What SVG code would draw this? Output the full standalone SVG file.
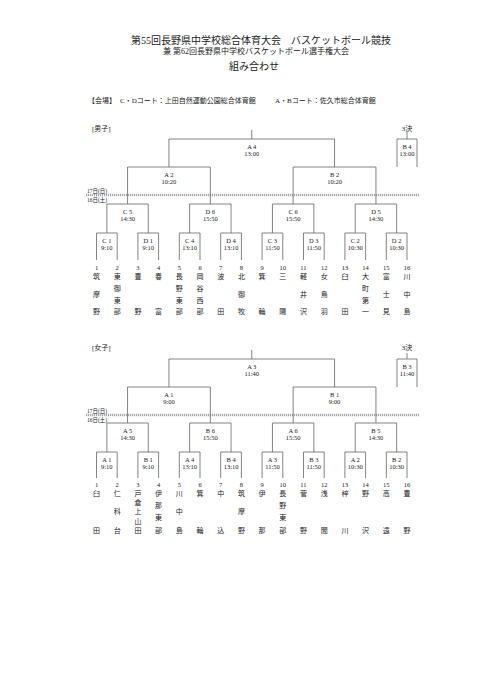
<svg xmlns="http://www.w3.org/2000/svg" width="481" height="680" viewBox="0 0 481 680">
<style>
text{font-family:"Liberation Serif","Noto Sans CJK JP",serif;fill:#222}
.t1{font-size:10px;text-anchor:middle}
.t2{font-size:8px;text-anchor:middle}
.vn{font-size:7px}
.sec{font-size:7px}
.day{font-size:5.5px}
.lb{font-size:6.5px;text-anchor:middle}
.num{font-size:6.5px;text-anchor:middle}
.nm{font-size:7px;text-anchor:middle}
.ln{fill:none;stroke:#666;stroke-width:0.8}
.dash{fill:none;stroke:#666;stroke-width:0.7;stroke-dasharray:1.2 0.8}
</style>
<rect width="481" height="680" fill="#fff"/>
<g id="title">
<text class="t1" x="261" y="43.8">第55回長野県中学校総合体育大会　バスケットボール競技</text>
<text class="t2" x="256" y="53.5">兼 第62回長野県中学校バスケットボール選手権大会</text>
<text class="t1" x="254" y="70.3">組み合わせ</text>
</g>
<g id="venue">
<text class="vn" x="88" y="102.7">【会場】</text>
<text class="vn" x="120" y="102.7">C・Dコート：上田自然運動公園総合体育館</text>
<text class="vn" x="275" y="102.7">A・Bコート：佐久市総合体育館</text>
</g>
<g id="connectors">
<!-- boys -->
<path class="ln" d="M251.75 130V139M168.95 167V139H334.55V167"/>
<path class="ln" d="M407 132V139M397 167V139H417V167"/>
<path class="ln" d="M127.55 204V167H210.35V204M293.15 204V167H375.95V204"/>
<path class="ln" d="M106.85 233V204H148.25V233M189.65 233V204H231.05V233M272.45 233V204H313.85V233M355.25 233V204H396.65V233"/>
<path class="ln" d="M96.5 260V233H117.2V260M137.9 260V233H158.6V260M179.3 260V233H200V260M220.7 260V233H241.4V260M262.1 260V233H282.8V260M303.5 260V233H324.2V260M344.9 260V233H365.6V260M386.3 260V233H407V260"/>
<path class="dash" d="M86 194.3H419M86 195.7H419"/>
<!-- girls -->
<path class="ln" d="M251.75 350V359M168.95 387V359H334.55V387"/>
<path class="ln" d="M407 353V359M397 387V359H417V387"/>
<path class="ln" d="M127.55 423V387H210.35V423M293.15 423V387H375.95V423"/>
<path class="ln" d="M106.85 452V423H148.25V452M189.65 452V423H231.05V452M272.45 452V423H313.85V452M355.25 452V423H396.65V452"/>
<path class="ln" d="M96.5 478V452H117.2V478M137.9 478V452H158.6V478M179.3 478V452H200V478M220.7 478V452H241.4V478M262.1 478V452H282.8V478M303.5 478V452H324.2V478M344.9 478V452H365.6V478M386.3 478V452H407V478"/>
<path class="dash" d="M86 414.3H419M86 415.7H419"/>
</g>
<g id="boys-labels">
<text class="sec" x="92" y="130.5">[男子]</text>
<text class="sec" x="407" y="130.5" text-anchor="middle">3決</text>
<text class="day" x="87" y="193">17日(日)</text>
<text class="day" x="87" y="201.5">16日(土)</text>
</g>
<g id="b-final"><text class="lb" x="251.75" y="148.5">A 4</text><text class="lb" x="251.75" y="155.5">13:00</text></g>
<g id="b-3rd"><text class="lb" x="407" y="148.5">B 4</text><text class="lb" x="407" y="155.5">13:00</text></g>
<g id="b-a2"><text class="lb" x="168.95" y="176.5">A 2</text><text class="lb" x="168.95" y="183.5">10:20</text></g>
<g id="b-b2"><text class="lb" x="334.55" y="176.5">B 2</text><text class="lb" x="334.55" y="183.5">10:20</text></g>
<g id="b-c5"><text class="lb" x="127.55" y="213.5">C 5</text><text class="lb" x="127.55" y="220.5">14:30</text></g>
<g id="b-d6"><text class="lb" x="210.35" y="213.5">D 6</text><text class="lb" x="210.35" y="220.5">15:50</text></g>
<g id="b-c6"><text class="lb" x="293.15" y="213.5">C 6</text><text class="lb" x="293.15" y="220.5">15:50</text></g>
<g id="b-d5"><text class="lb" x="375.95" y="213.5">D 5</text><text class="lb" x="375.95" y="220.5">14:30</text></g>
<g id="b-c1"><text class="lb" x="106.85" y="242.5">C 1</text><text class="lb" x="106.85" y="249.5">9:10</text></g>
<g id="b-d1"><text class="lb" x="148.25" y="242.5">D 1</text><text class="lb" x="148.25" y="249.5">9:10</text></g>
<g id="b-c4"><text class="lb" x="189.65" y="242.5">C 4</text><text class="lb" x="189.65" y="249.5">13:10</text></g>
<g id="b-d4"><text class="lb" x="231.05" y="242.5">D 4</text><text class="lb" x="231.05" y="249.5">13:10</text></g>
<g id="b-c3"><text class="lb" x="272.45" y="242.5">C 3</text><text class="lb" x="272.45" y="249.5">11:50</text></g>
<g id="b-d3"><text class="lb" x="313.85" y="242.5">D 3</text><text class="lb" x="313.85" y="249.5">11:50</text></g>
<g id="b-c2"><text class="lb" x="355.25" y="242.5">C 2</text><text class="lb" x="355.25" y="249.5">10:30</text></g>
<g id="b-d2"><text class="lb" x="396.65" y="242.5">D 2</text><text class="lb" x="396.65" y="249.5">10:30</text></g>
<g id="b-t1"><text class="num" x="96.5" y="269.5">1</text><text class="nm"><tspan x="96.5" y="278.7">筑</tspan><tspan x="96.5" y="296.55">摩</tspan><tspan x="96.5" y="314.4">野</tspan></text></g>
<g id="b-t2"><text class="num" x="117.2" y="269.5">2</text><text class="nm"><tspan x="117.2" y="278.7">東</tspan><tspan x="117.2" y="290.6">御</tspan><tspan x="117.2" y="302.5">東</tspan><tspan x="117.2" y="314.4">部</tspan></text></g>
<g id="b-t3"><text class="num" x="137.9" y="269.5">3</text><text class="nm"><tspan x="137.9" y="278.7">豊</tspan><tspan x="137.9" y="314.4">野</tspan></text></g>
<g id="b-t4"><text class="num" x="158.6" y="269.5">4</text><text class="nm"><tspan x="158.6" y="278.7">春</tspan><tspan x="158.6" y="314.4">富</tspan></text></g>
<g id="b-t5"><text class="num" x="179.3" y="269.5">5</text><text class="nm"><tspan x="179.3" y="278.7">長</tspan><tspan x="179.3" y="290.6">野</tspan><tspan x="179.3" y="302.5">東</tspan><tspan x="179.3" y="314.4">部</tspan></text></g>
<g id="b-t6"><text class="num" x="200" y="269.5">6</text><text class="nm"><tspan x="200" y="278.7">岡</tspan><tspan x="200" y="290.6">谷</tspan><tspan x="200" y="302.5">西</tspan><tspan x="200" y="314.4">部</tspan></text></g>
<g id="b-t7"><text class="num" x="220.7" y="269.5">7</text><text class="nm"><tspan x="220.7" y="278.7">波</tspan><tspan x="220.7" y="314.4">田</tspan></text></g>
<g id="b-t8"><text class="num" x="241.4" y="269.5">8</text><text class="nm"><tspan x="241.4" y="278.7">北</tspan><tspan x="241.4" y="296.55">御</tspan><tspan x="241.4" y="314.4">牧</tspan></text></g>
<g id="b-t9"><text class="num" x="262.1" y="269.5">9</text><text class="nm"><tspan x="262.1" y="278.7">箕</tspan><tspan x="262.1" y="314.4">輪</tspan></text></g>
<g id="b-t10"><text class="num" x="282.8" y="269.5">10</text><text class="nm"><tspan x="282.8" y="278.7">三</tspan><tspan x="282.8" y="314.4">陽</tspan></text></g>
<g id="b-t11"><text class="num" x="303.5" y="269.5">11</text><text class="nm"><tspan x="303.5" y="278.7">軽</tspan><tspan x="303.5" y="296.55">井</tspan><tspan x="303.5" y="314.4">沢</tspan></text></g>
<g id="b-t12"><text class="num" x="324.2" y="269.5">12</text><text class="nm"><tspan x="324.2" y="278.7">女</tspan><tspan x="324.2" y="296.55">鳥</tspan><tspan x="324.2" y="314.4">羽</tspan></text></g>
<g id="b-t13"><text class="num" x="344.9" y="269.5">13</text><text class="nm"><tspan x="344.9" y="278.7">臼</tspan><tspan x="344.9" y="314.4">田</tspan></text></g>
<g id="b-t14"><text class="num" x="365.6" y="269.5">14</text><text class="nm"><tspan x="365.6" y="278.7">大</tspan><tspan x="365.6" y="290.6">町</tspan><tspan x="365.6" y="302.5">第</tspan><tspan x="365.6" y="314.4">一</tspan></text></g>
<g id="b-t15"><text class="num" x="386.3" y="269.5">15</text><text class="nm"><tspan x="386.3" y="278.7">富</tspan><tspan x="386.3" y="296.55">士</tspan><tspan x="386.3" y="314.4">見</tspan></text></g>
<g id="b-t16"><text class="num" x="407" y="269.5">16</text><text class="nm"><tspan x="407" y="278.7">川</tspan><tspan x="407" y="296.55">中</tspan><tspan x="407" y="314.4">島</tspan></text></g>
<g id="girls-labels">
<text class="sec" x="92" y="349.5">[女子]</text>
<text class="sec" x="407" y="349.5" text-anchor="middle">3決</text>
<text class="day" x="87" y="412.8">17日(日)</text>
<text class="day" x="87" y="421.8">16日(土)</text>
</g>
<g id="g-final"><text class="lb" x="251.75" y="368.5">A 3</text><text class="lb" x="251.75" y="375.5">11:40</text></g>
<g id="g-3rd"><text class="lb" x="407" y="368.5">B 3</text><text class="lb" x="407" y="375.5">11:40</text></g>
<g id="g-a1"><text class="lb" x="168.95" y="396.5">A 1</text><text class="lb" x="168.95" y="403.5">9:00</text></g>
<g id="g-b1"><text class="lb" x="334.55" y="396.5">B 1</text><text class="lb" x="334.55" y="403.5">9:00</text></g>
<g id="g-a5"><text class="lb" x="127.55" y="432.5">A 5</text><text class="lb" x="127.55" y="439.5">14:30</text></g>
<g id="g-b6"><text class="lb" x="210.35" y="432.5">B 6</text><text class="lb" x="210.35" y="439.5">15:50</text></g>
<g id="g-a6"><text class="lb" x="293.15" y="432.5">A 6</text><text class="lb" x="293.15" y="439.5">15:50</text></g>
<g id="g-b5"><text class="lb" x="375.95" y="432.5">B 5</text><text class="lb" x="375.95" y="439.5">14:30</text></g>
<g id="g-r1a1"><text class="lb" x="106.85" y="461.5">A 1</text><text class="lb" x="106.85" y="468.5">9:10</text></g>
<g id="g-r1b1"><text class="lb" x="148.25" y="461.5">B 1</text><text class="lb" x="148.25" y="468.5">9:10</text></g>
<g id="g-r1a4"><text class="lb" x="189.65" y="461.5">A 4</text><text class="lb" x="189.65" y="468.5">13:10</text></g>
<g id="g-r1b4"><text class="lb" x="231.05" y="461.5">B 4</text><text class="lb" x="231.05" y="468.5">13:10</text></g>
<g id="g-r1a3"><text class="lb" x="272.45" y="461.5">A 3</text><text class="lb" x="272.45" y="468.5">11:50</text></g>
<g id="g-r1b3"><text class="lb" x="313.85" y="461.5">B 3</text><text class="lb" x="313.85" y="468.5">11:50</text></g>
<g id="g-r1a2"><text class="lb" x="355.25" y="461.5">A 2</text><text class="lb" x="355.25" y="468.5">10:30</text></g>
<g id="g-r1b2"><text class="lb" x="396.65" y="461.5">B 2</text><text class="lb" x="396.65" y="468.5">10:30</text></g>
<g id="g-t1"><text class="num" x="96.5" y="487.2">1</text><text class="nm"><tspan x="96.5" y="496">臼</tspan><tspan x="96.5" y="532.7">田</tspan></text></g>
<g id="g-t2"><text class="num" x="117.2" y="487.2">2</text><text class="nm"><tspan x="117.2" y="496">仁</tspan><tspan x="117.2" y="514.35">科</tspan><tspan x="117.2" y="532.7">台</tspan></text></g>
<g id="g-t3"><text class="num" x="137.9" y="487.2">3</text><text class="nm"><tspan x="137.9" y="496">戸</tspan><tspan x="137.9" y="505.18">倉</tspan><tspan x="137.9" y="514.35">上</tspan><tspan x="137.9" y="523.53">山</tspan><tspan x="137.9" y="532.7">田</tspan></text></g>
<g id="g-t4"><text class="num" x="158.6" y="487.2">4</text><text class="nm"><tspan x="158.6" y="496">伊</tspan><tspan x="158.6" y="508.23">那</tspan><tspan x="158.6" y="520.47">東</tspan><tspan x="158.6" y="532.7">部</tspan></text></g>
<g id="g-t5"><text class="num" x="179.3" y="487.2">5</text><text class="nm"><tspan x="179.3" y="496">川</tspan><tspan x="179.3" y="514.35">中</tspan><tspan x="179.3" y="532.7">島</tspan></text></g>
<g id="g-t6"><text class="num" x="200" y="487.2">6</text><text class="nm"><tspan x="200" y="496">箕</tspan><tspan x="200" y="532.7">輪</tspan></text></g>
<g id="g-t7"><text class="num" x="220.7" y="487.2">7</text><text class="nm"><tspan x="220.7" y="496">中</tspan><tspan x="220.7" y="532.7">込</tspan></text></g>
<g id="g-t8"><text class="num" x="241.4" y="487.2">8</text><text class="nm"><tspan x="241.4" y="496">筑</tspan><tspan x="241.4" y="514.35">摩</tspan><tspan x="241.4" y="532.7">野</tspan></text></g>
<g id="g-t9"><text class="num" x="262.1" y="487.2">9</text><text class="nm"><tspan x="262.1" y="496">伊</tspan><tspan x="262.1" y="532.7">那</tspan></text></g>
<g id="g-t10"><text class="num" x="282.8" y="487.2">10</text><text class="nm"><tspan x="282.8" y="496">長</tspan><tspan x="282.8" y="508.23">野</tspan><tspan x="282.8" y="520.47">東</tspan><tspan x="282.8" y="532.7">部</tspan></text></g>
<g id="g-t11"><text class="num" x="303.5" y="487.2">11</text><text class="nm"><tspan x="303.5" y="496">菅</tspan><tspan x="303.5" y="532.7">野</tspan></text></g>
<g id="g-t12"><text class="num" x="324.2" y="487.2">12</text><text class="nm"><tspan x="324.2" y="496">浅</tspan><tspan x="324.2" y="532.7">間</tspan></text></g>
<g id="g-t13"><text class="num" x="344.9" y="487.2">13</text><text class="nm"><tspan x="344.9" y="496">梓</tspan><tspan x="344.9" y="532.7">川</tspan></text></g>
<g id="g-t14"><text class="num" x="365.6" y="487.2">14</text><text class="nm"><tspan x="365.6" y="496">野</tspan><tspan x="365.6" y="532.7">沢</tspan></text></g>
<g id="g-t15"><text class="num" x="386.3" y="487.2">15</text><text class="nm"><tspan x="386.3" y="496">高</tspan><tspan x="386.3" y="532.7">遠</tspan></text></g>
<g id="g-t16"><text class="num" x="407" y="487.2">16</text><text class="nm"><tspan x="407" y="496">豊</tspan><tspan x="407" y="532.7">野</tspan></text></g>
</svg>
